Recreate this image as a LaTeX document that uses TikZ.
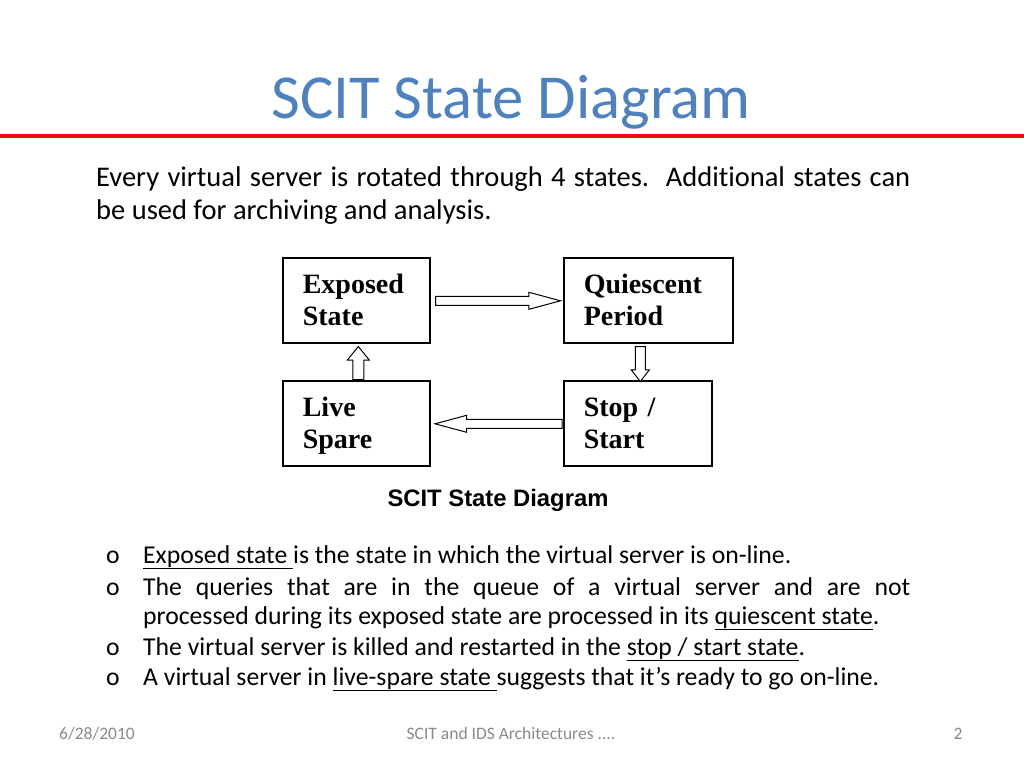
\documentclass[tikz,border=0pt]{standalone}
\usepackage{fontspec}
\setmainfont{Carlito}[Ligatures=NoCommon]
\newfontfamily\boxfont{Liberation Serif}
\newfontfamily\capfont{Liberation Sans}
\usepackage{xcolor}
\usetikzlibrary{shapes.arrows, positioning, calc}

\definecolor{titleblue}{RGB}{79,129,189}
\definecolor{rulered}{RGB}{240,10,10}
\definecolor{footgray}{RGB}{137,137,137}

% same line box in every state box
\newcommand{\bstrut}{\rule[-6bp]{0pt}{30bp}}

\tikzset{
    statebox/.style={draw, line width=1.6bp, anchor=north west, minimum height=85bp, inner xsep=20bp, align=left, font=\boxfont\bfseries\fontsize{28bp}{32bp}\selectfont},
    blockarrow/.style={draw, fill=white, single arrow, line width=1bp, anchor=tail, inner xsep=0pt, inner ysep=4bp, single arrow head extend=4bp},
    bodytext/.style={anchor=base west, inner sep=0pt, font=\fontsize{28.5bp}{34bp}\selectfont},
    itemtext/.style={anchor=base west, inner sep=0pt, font=\fontsize{25.7bp}{30bp}\selectfont},
    foottext/.style={anchor=base, inner sep=0pt, text=footgray, font=\fontsize{17.5bp}{20bp}\selectfont}
}

\begin{document}
\begin{tikzpicture}[x=1bp, y=-1bp]
    \useasboundingbox (0,0) rectangle (1024,768);

    % Title and rule
    \node[anchor=base, inner sep=0pt, text=titleblue, font=\fontsize{62.6bp}{70bp}\selectfont] (title) at (511,118) {SCIT State Diagram};
    \draw[rulered, line width=4bp] (0,136) -- (1024,136);

    % Intro text
    \node[bodytext] (intro1) at (96,186) {\makebox[814bp][s]{Every virtual server is rotated through 4 states.\ \ Additional states can}};
    \node[bodytext] (intro2) at (96,219) {be used for archiving and analysis.};

    % State boxes
    \node[statebox, minimum width=147bp, text width=107bp] (exp) at (282,257) {Exposed\bstrut\\State\bstrut};
    \node[statebox, minimum width=169bp, text width=129bp] (qui) at (563,257) {Quiescent\bstrut\\Period\bstrut};
    \node[statebox, minimum width=147bp, text width=107bp] (liv) at (282,380) {Live\bstrut\\Spare\bstrut};
    \node[statebox, minimum width=148bp, text width=108bp] (stp) at (563,380) {Stop /\bstrut\\Start\bstrut};

    % Block arrows between states
    \node[blockarrow, minimum height=125bp, single arrow tip angle=30] (e2q) at ($(exp.east)+(4.5,0.5)$) {};
    \node[blockarrow, minimum height=35bp, single arrow tip angle=75, inner ysep=4.5bp, rotate=-90] (q2s) at ($(qui.south)+(-8,2.5)$) {};
    \node[blockarrow, minimum height=127bp, single arrow tip angle=30, rotate=180] (s2l) at ($(stp.west)+(-0.5,0.5)$) {};
    \node[blockarrow, minimum height=33bp, single arrow tip angle=78, inner ysep=5bp, single arrow head extend=5.5bp, rotate=90] (l2e) at ($(liv.north)+(2,0)$) {};

    % Caption
    \node[anchor=base, inner sep=0pt, font=\capfont\bfseries\fontsize{23.8bp}{26bp}\selectfont] (cap) at (498,506) {SCIT State Diagram};

    % Bullets
    \foreach \y in {563, 595, 655, 685} {
        \node[itemtext] at (106,\y) {o};
    }
    \node[itemtext] (b1) at (143,563) {\underline{Exposed state\ }is the state in which the virtual server is on-line.};
    \node[itemtext] (b2a) at (143,595) {\makebox[767bp][s]{The queries that are in the queue of a virtual server and are not}};
    \node[itemtext] (b2b) at (143,624) {processed during its exposed state are processed in its \underline{quiescent state}.};
    \node[itemtext] (b3) at (143,655) {The virtual server is killed and restarted in the \underline{stop / start state}.};
    \node[itemtext] (b4) at (143,685) {A virtual server in \underline{live-spare state\ }suggests that it’s ready to go on-line.};

    % Footer
    \node[foottext] (date) at (97,739) {6/28/2010};
    \node[foottext] (foot) at (511,739) {SCIT and IDS Architectures ....};
    \node[foottext] (page) at (958,739) {2};
\end{tikzpicture}
\end{document}
